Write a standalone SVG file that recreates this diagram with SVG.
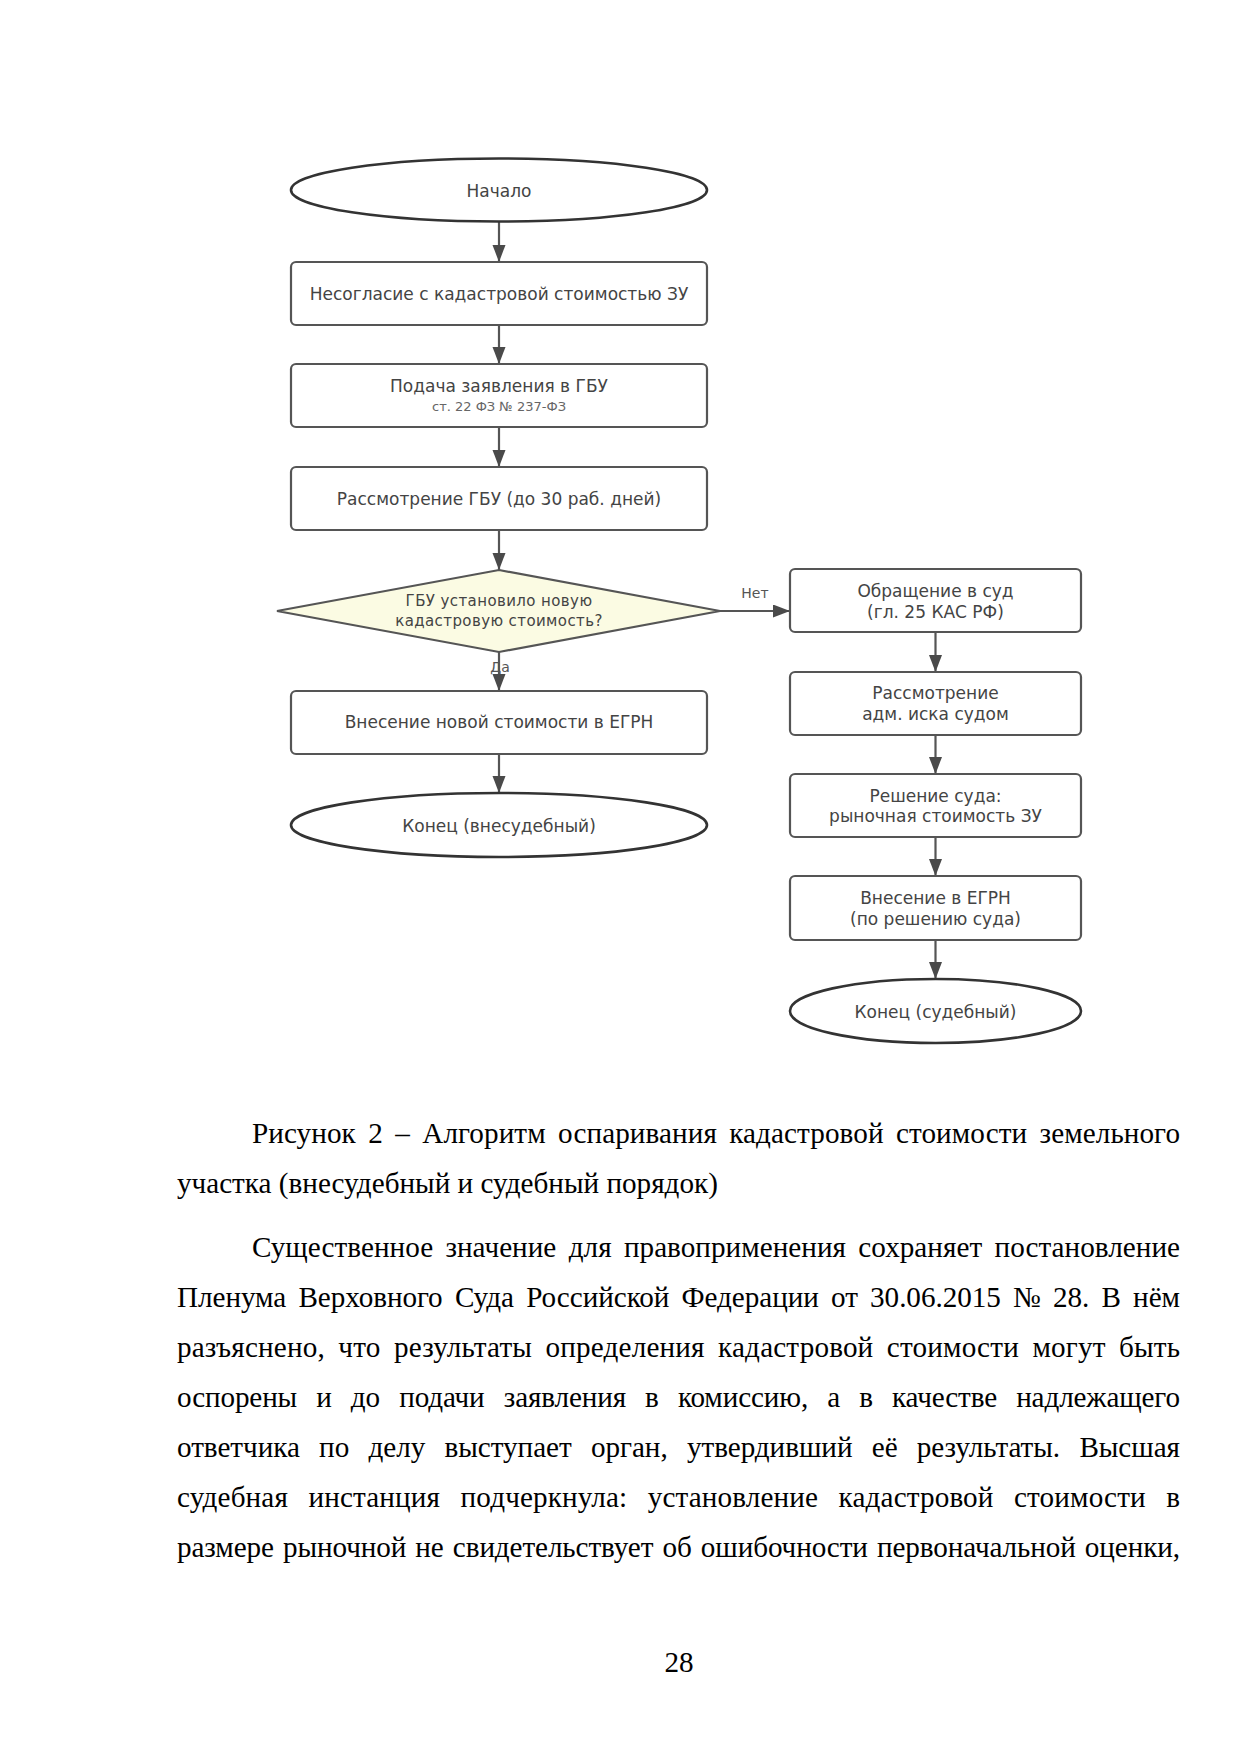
<svg xmlns="http://www.w3.org/2000/svg" width="1241" height="1754" viewBox="0 0 1241 1754">
<style>
.bg{fill:#fff}
.box{fill:#fff;stroke:#555;stroke-width:2.2}
.term{fill:#fff;stroke:#333;stroke-width:2.6}
.dec{fill:#fbfbe3;stroke:#555;stroke-width:2.2}
.t{font-family:"DejaVu Sans",Verdana,sans-serif;font-size:17px;fill:#444;text-anchor:middle;dominant-baseline:central}
.ts{font-family:"DejaVu Sans",Verdana,sans-serif;font-size:13px;fill:#666;text-anchor:middle;dominant-baseline:central}
.td{font-family:"DejaVu Sans",Verdana,sans-serif;font-size:15px;fill:#444;text-anchor:middle;dominant-baseline:central;letter-spacing:0.4px}
.tl{font-family:"DejaVu Sans",Verdana,sans-serif;font-size:14px;fill:#555;text-anchor:middle;dominant-baseline:central}
.conn line{stroke:#555;stroke-width:2.2;fill:none}
.body{font-family:"Liberation Serif","Times New Roman",serif;font-size:29.17px;fill:#000}
</style>
<defs>
<marker id="arr" markerUnits="userSpaceOnUse" markerWidth="18" markerHeight="14" refX="17" refY="6.5" orient="auto">
<path d="M0,0 L17,6.5 L0,13 z" fill="#4a4a4a"/>
</marker>
</defs>
<rect class="bg" x="0" y="0" width="1241" height="1754"/>

<g id="connectors" class="conn">
<line x1="499" y1="222" x2="499" y2="262" marker-end="url(#arr)"/>
<line x1="499" y1="325" x2="499" y2="364" marker-end="url(#arr)"/>
<line x1="499" y1="427" x2="499" y2="467" marker-end="url(#arr)"/>
<line x1="499" y1="530" x2="499" y2="570" marker-end="url(#arr)"/>
<line x1="499" y1="652" x2="499" y2="691" marker-end="url(#arr)"/>
<line x1="499" y1="754" x2="499" y2="793" marker-end="url(#arr)"/>
<line x1="720" y1="611" x2="790" y2="611" marker-end="url(#arr)"/>
<line x1="935.5" y1="632" x2="935.5" y2="672" marker-end="url(#arr)"/>
<line x1="935.5" y1="735" x2="935.5" y2="774" marker-end="url(#arr)"/>
<line x1="935.5" y1="837" x2="935.5" y2="876" marker-end="url(#arr)"/>
<line x1="935.5" y1="940" x2="935.5" y2="979" marker-end="url(#arr)"/>
<text class="tl" x="755" y="593">Нет</text>
<text class="tl" x="500" y="667">Да</text>
</g>

<g id="start">
<ellipse class="term" cx="499" cy="190" rx="208" ry="31.5"/>
<text class="t" x="499" y="191">Начало</text>
</g>
<g id="disagree">
<rect class="box" x="291" y="262" width="416" height="63" rx="5"/>
<text class="t" x="499" y="294">Несогласие с кадастровой стоимостью ЗУ</text>
</g>
<g id="apply">
<rect class="box" x="291" y="364" width="416" height="63" rx="5"/>
<text class="t" x="499" y="386">Подача заявления в ГБУ</text>
<text class="ts" x="499" y="406">ст. 22 ФЗ № 237-ФЗ</text>
</g>
<g id="review">
<rect class="box" x="291" y="467" width="416" height="63" rx="5"/>
<text class="t" x="499" y="499">Рассмотрение ГБУ (до 30 раб. дней)</text>
</g>
<g id="decision">
<polygon class="dec" points="499,570 720,611 499,652 277,611"/>
<text class="td" x="499" y="601">ГБУ установило новую</text>
<text class="td" x="499" y="621">кадастровую стоимость?</text>
</g>
<g id="egrn-new">
<rect class="box" x="291" y="691" width="416" height="63" rx="5"/>
<text class="t" x="499" y="722">Внесение новой стоимости в ЕГРН</text>
</g>
<g id="end-out">
<ellipse class="term" cx="499" cy="825" rx="208" ry="32"/>
<text class="t" x="499" y="826">Конец (внесудебный)</text>
</g>
<g id="court">
<rect class="box" x="790" y="569" width="291" height="63" rx="5"/>
<text class="t" x="935.5" y="591">Обращение в суд</text>
<text class="t" x="935.5" y="612">(гл. 25 КАС РФ)</text>
</g>
<g id="court-review">
<rect class="box" x="790" y="672" width="291" height="63" rx="5"/>
<text class="t" x="935.5" y="693">Рассмотрение</text>
<text class="t" x="935.5" y="714">адм. иска судом</text>
</g>
<g id="court-decision">
<rect class="box" x="790" y="774" width="291" height="63" rx="5"/>
<text class="t" x="935.5" y="796">Решение суда:</text>
<text class="t" x="935.5" y="816">рыночная стоимость ЗУ</text>
</g>
<g id="egrn-court">
<rect class="box" x="790" y="876" width="291" height="64" rx="5"/>
<text class="t" x="935.5" y="898">Внесение в ЕГРН</text>
<text class="t" x="935.5" y="919">(по решению суда)</text>
</g>
<g id="end-court">
<ellipse class="term" cx="935.5" cy="1011" rx="145.5" ry="32"/>
<text class="t" x="935.5" y="1012">Конец (судебный)</text>
</g>

<g id="page-text" class="body">
<text x="252" y="1143" word-spacing="5" textLength="928" lengthAdjust="spacing">Рисунок 2 – Алгоритм оспаривания кадастровой стоимости земельного</text>
<text x="177" y="1193">участка (внесудебный и судебный порядок)</text>
<text x="252" y="1257" word-spacing="5" textLength="928" lengthAdjust="spacing">Существенное значение для правоприменения сохраняет постановление</text>
<text x="177" y="1307" word-spacing="5" textLength="1003" lengthAdjust="spacing">Пленума Верховного Суда Российской Федерации от 30.06.2015 № 28. В нём</text>
<text x="177" y="1357" word-spacing="6" textLength="1003" lengthAdjust="spacing">разъяснено, что результаты определения кадастровой стоимости могут быть</text>
<text x="177" y="1407" word-spacing="12" textLength="1003" lengthAdjust="spacing">оспорены и до подачи заявления в комиссию, а в качестве надлежащего</text>
<text x="177" y="1457" word-spacing="12" textLength="1003" lengthAdjust="spacing">ответчика по делу выступает орган, утвердивший её результаты. Высшая</text>
<text x="177" y="1507" word-spacing="13" textLength="1003" lengthAdjust="spacing">судебная инстанция подчеркнула: установление кадастровой стоимости в</text>
<text x="177" y="1557" word-spacing="2" textLength="1003" lengthAdjust="spacing">размере рыночной не свидетельствует об ошибочности первоначальной оценки,</text>
<text x="679" y="1672" text-anchor="middle">28</text>
</g>
</svg>
